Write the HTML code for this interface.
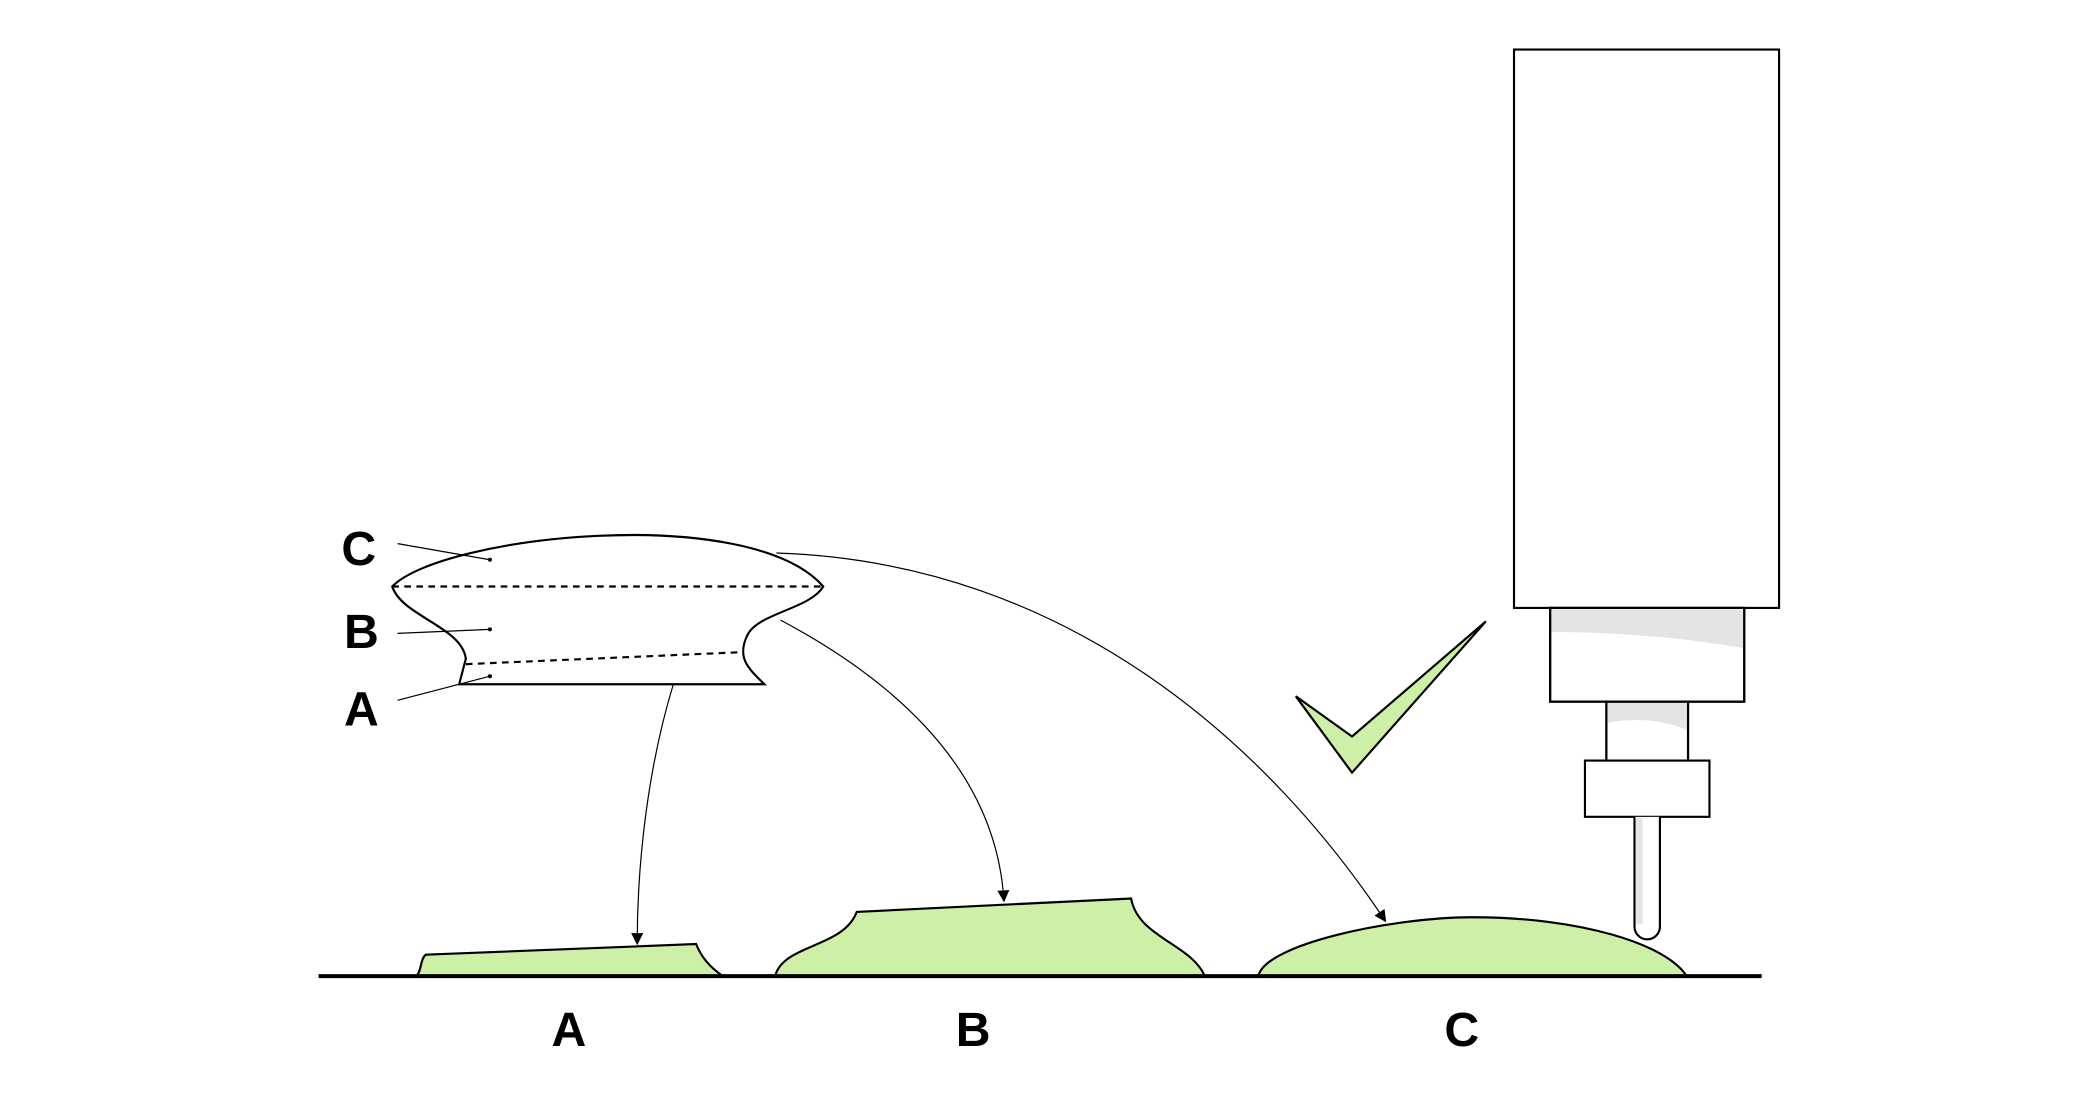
<!DOCTYPE html>
<html><head><meta charset="utf-8">
<style>
html,body{margin:0;padding:0;background:#fff;}
svg{display:block;}
text{font-family:"Liberation Sans",sans-serif;font-weight:bold;fill:#000;}
</style></head>
<body>
<svg width="2099" height="1094" viewBox="0 0 1568 817" preserveAspectRatio="none" xmlns="http://www.w3.org/2000/svg">
<defs>
<marker id="ah" viewBox="0 0 10 10" refX="9" refY="5" markerWidth="9" markerHeight="9" orient="auto" markerUnits="userSpaceOnUse">
<path d="M0,0 L10,5 L0,10 Z" fill="#000"/>
</marker>
</defs>
<rect width="1568" height="817" fill="#fff"/>

<!-- top droplet shape -->
<g fill="#fff" stroke="#000" stroke-width="1.6">
<path d="M293,438 C330,400 560,375 615,438 C605,455 565,458 558,475 C550,492 560,500 571,511 L343,511 L348,492 C345,468 300,460 293,438 Z"/>
</g>
<line x1="293" y1="438" x2="615" y2="438" stroke="#000" stroke-width="1.6" stroke-dasharray="5,4"/>
<line x1="348" y1="496" x2="555" y2="487" stroke="#000" stroke-width="1.6" stroke-dasharray="5,4"/>

<g stroke="#000" stroke-width="0.9">
<line x1="297" y1="406" x2="366" y2="418"/>
<line x1="297" y1="473" x2="366" y2="470"/>
<line x1="297" y1="523" x2="366" y2="505"/>
</g>
<g fill="#000"><circle cx="366" cy="418" r="1.5"/><circle cx="366" cy="470" r="1.5"/><circle cx="366" cy="505" r="1.5"/></g>

<text x="268" y="422" font-size="36" text-anchor="middle">C</text>
<text x="270" y="484" font-size="36" text-anchor="middle">B</text>
<text x="270" y="542" font-size="36" text-anchor="middle">A</text>

<!-- arrows -->
<g fill="none" stroke="#000" stroke-width="0.9" marker-end="url(#ah)">
<path d="M503,511 C485,570 476,640 476,705"/>
<path d="M583,463 C690,520 745,590 750,673"/>
<path d="M580,413 C800,420 950,560 1035,688"/>
</g>

<!-- green deposits -->
<g fill="#cdefa8" stroke="#000" stroke-width="1.6">
<path d="M311,729 C315,725 314,716 318,713 L520,705 C524,715 530,722 540,729 Z"/>
<path d="M579,729 C585,705 630,708 640,681 L845,671 C850,700 890,705 900,729 Z"/>
<path d="M940,729 C945,705 1040,685 1100,685 C1180,685 1245,705 1260,729 Z"/>
<path d="M968,520 L1010,550 L1110,464 L1010,577 Z"/>
</g>

<line x1="238" y1="729" x2="1316" y2="729" stroke="#000" stroke-width="3"/>

<text x="425" y="781" font-size="36" text-anchor="middle">A</text>
<text x="727" y="781" font-size="36" text-anchor="middle">B</text>
<text x="1092" y="781" font-size="36" text-anchor="middle">C</text>

<!-- nozzle -->
<g stroke="#000" stroke-width="1.6" fill="#fff">
<rect x="1131" y="37" width="198" height="417"/>
<rect x="1158" y="454" width="145" height="70"/>
<path d="M1159,455 L1302,455 L1302,484 C1250,475 1200,472 1159,472 Z" fill="#e4e4e4" stroke="none"/>
<rect x="1158" y="454" width="145" height="70" fill="none"/>
<rect x="1200" y="524" width="61" height="44"/>
<path d="M1201,525 L1260,525 L1260,545 C1240,537 1220,536 1201,540 Z" fill="#e4e4e4" stroke="none"/>
<rect x="1200" y="524" width="61" height="44" fill="none"/>
<rect x="1184" y="568" width="93" height="42"/>
<path d="M1221,610 L1221,692 A9.5,9.5 0 0 0 1240,692 L1240,610"/>
<path d="M1222,611 L1227,611 L1227,690 L1222,690 Z" fill="#e4e4e4" stroke="none"/>
</g>
</svg>
</body></html>
